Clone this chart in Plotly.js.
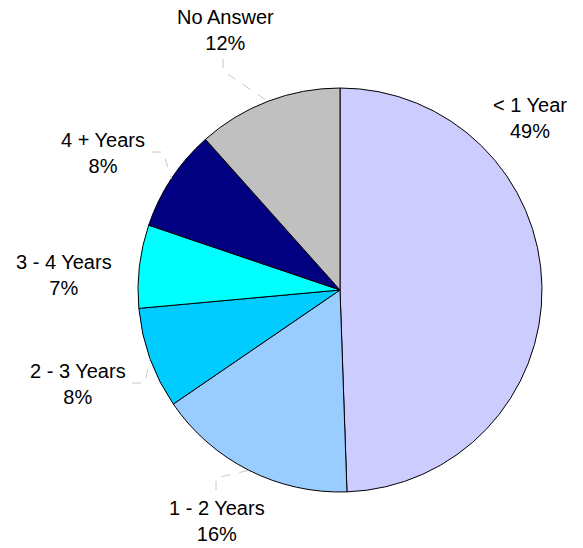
<!DOCTYPE html>
<html>
<head>
<meta charset="utf-8">
<script src="https://cdn.plot.ly/plotly-3.0.1.min.js"></script>
<style>html,body{margin:0;padding:0;background:#fff;}#chart{width:583px;height:548px;}</style>
</head>
<body>
<div id="chart"></div>
<script>
// Data
var categories = ['< 1 Year', '1 - 2 Years', '2 - 3 Years', '3 - 4 Years', '4 + Years', 'No Answer'];
var shares = [49.45, 16.0, 8.1, 6.65, 8.2, 11.6];
var sliceColors = ['#CCCCFF', '#99CCFF', '#00CCFF', '#00FFFF', '#000080', '#C0C0C0'];

// Layout (pixels)
var W = 583, H = 548;
var cx = 340, cy = 290, R = 202;
var labelPos = [[530, 118], [217, 521], [78, 384], [64, 275], [103, 153], [225, 30]];
// leader line: [start point near label, elbow] or null
var leaders = [null, [[216, 490], [216, 478]], [[132, 383], [145, 383]], null, [[152, 152], [163, 152]], [[223, 59], [223, 71]]];

var total = shares.reduce(function(a, b){return a + b;}, 0);
var annotations = [], shapes = [];
var cum = 0;
categories.forEach(function(c, i) {
  var pct = Math.round(shares[i] / total * 100);
  annotations.push({
    x: labelPos[i][0], y: labelPos[i][1], xref: 'x', yref: 'y',
    text: c + '<br>' + pct + '%', showarrow: false,
    xanchor: 'center', yanchor: 'middle', align: 'center',
    font: {family: 'Liberation Sans, Arial, sans-serif', size: 20, color: '#000'}
  });
  var mid = (cum + shares[i] / 2) / total * 2 * Math.PI;
  cum += shares[i];
  if (leaders[i]) {
    var ex = cx + R * Math.sin(mid), ey = cy - R * Math.cos(mid);
    var p = leaders[i];
    shapes.push({
      type: 'path', xref: 'x', yref: 'y',
      path: 'M' + p[0][0] + ',' + p[0][1] + ' L' + p[1][0] + ',' + p[1][1] + ' L' + ex.toFixed(1) + ',' + ey.toFixed(1),
      line: {color: '#C8C8C8', width: 1, dash: 'dash'}
    });
  }
});

var trace = {
  type: 'pie',
  labels: categories,
  values: shares,
  sort: false,
  direction: 'clockwise',
  rotation: 0,
  textinfo: 'none',
  hoverinfo: 'label+percent',
  marker: {colors: sliceColors, line: {color: '#000', width: 1}},
  domain: {x: [(cx - R) / W, (cx + R) / W], y: [(H - cy - R) / H, (H - cy + R) / H]},
  showlegend: false
};

var layout = {
  width: W, height: H,
  margin: {l: 0, r: 0, t: 0, b: 0},
  paper_bgcolor: '#fff', plot_bgcolor: 'rgba(0,0,0,0)',
  xaxis: {range: [0, W], visible: false, fixedrange: true},
  yaxis: {range: [H, 0], visible: false, fixedrange: true},
  showlegend: false,
  annotations: annotations,
  shapes: shapes
};

Plotly.newPlot('chart', [trace], layout, {displayModeBar: false, staticPlot: true});
</script>
</body>
</html>
